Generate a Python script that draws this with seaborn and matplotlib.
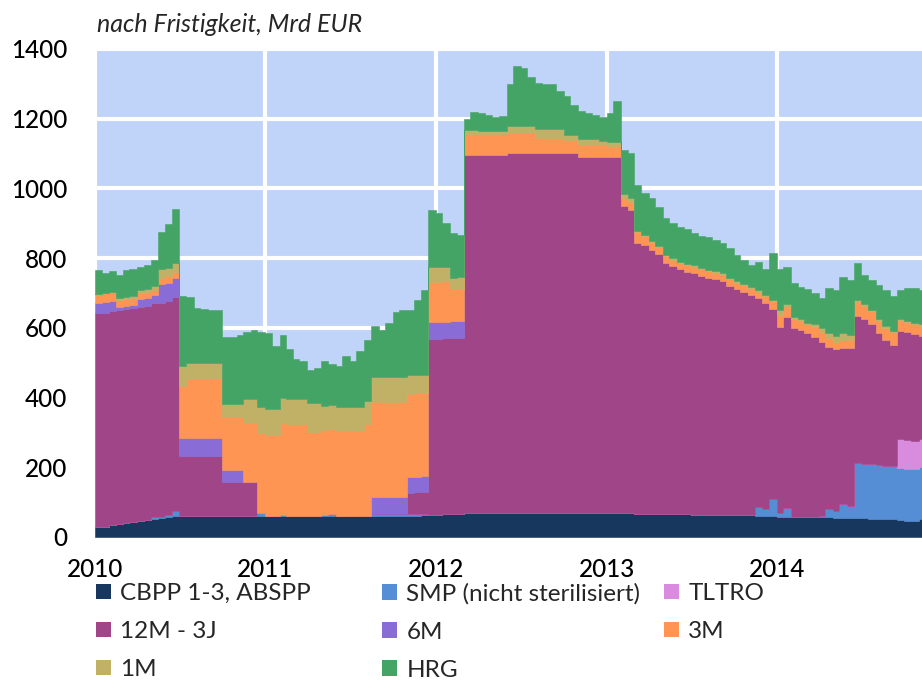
import numpy as np
import pandas as pd
import matplotlib
matplotlib.use("Agg")
import matplotlib.pyplot as plt
from matplotlib.patches import Patch
import seaborn as sns

# Halbmonatswerte (1. und 15. des Monats), Mrd EUR, Jan 2010 - Nov 2014
dates = pd.date_range("2010-01-01", periods=117, freq="SMS")

cbpp = [28, 30, 33, 36, 39, 42, 45, 48, 51, 54, 57, 60, 60, 60, 60, 60, 60, 60, 60, 60, 60, 60, 60, 60,
        60, 60, 60, 60, 60, 60, 60, 60, 60, 60, 60, 60, 60, 60, 60, 60, 60, 60, 60, 60, 60, 61, 62, 63,
        64, 65, 66, 67, 68, 68, 69, 69, 70, 70, 70, 70, 70, 70, 70, 70, 70, 70, 70, 70, 70, 70, 70, 70,
        69, 69, 68, 68, 67, 67, 66, 66, 66, 65, 65, 65, 64, 64, 64, 63, 63, 63, 62, 62, 62, 61, 61, 60,
        58, 58, 57, 57, 57, 56, 56, 56, 55, 55, 55, 54, 54, 53, 53, 52, 51, 48, 45, 45, 52]

smp = [0, 0, 0, 0, 0, 0, 0, 0, 5, 4, 6, 15, 0, 0, 0, 0, 0, 0, 0, 0, 0, 0, 0, 8,
       0, 0, 4, 0, 0, 0, 0, 0, 3, 5, 0, 0, 0, 0, 0, 5, 5, 5, 5, 5, 5, 5, 5, 0,
       0, 0, 0, 0, 0, 0, 0, 0, 0, 0, 0, 0, 0, 0, 0, 0, 0, 0, 0, 0, 0, 0, 0, 0,
       0, 0, 0, 0, 0, 0, 0, 0, 0, 0, 0, 0, 0, 0, 0, 0, 0, 0, 0, 0, 0, 25, 20, 50,
       10, 26, 0, 0, 0, 0, 5, 25, 20, 40, 35, 157, 156, 155, 154, 153, 152, 151, 150, 149, 148]

tltro = [0] * 24 + [0] * 24 + [0] * 24 + [0] * 24 + \
        [0, 0, 0, 0, 0, 0, 0, 0, 0, 0, 0, 0, 0, 0, 0, 0, 0, 82, 82, 82, 82]

m12_3j = [614, 614, 614, 614, 614, 614, 614, 614, 614, 614, 614, 614, 172, 172, 172, 172, 172, 172, 97, 97, 97, 97, 97, 0,
          0, 0, 0, 0, 0, 0, 0, 0, 0, 0, 0, 0, 0, 0, 0, 0, 0, 0, 0, 0, 62, 62, 62, 505,
          505, 505, 505, 505, 1028, 1028, 1027, 1027, 1026, 1026, 1031, 1031, 1031, 1031, 1031, 1031, 1031, 1031, 1031, 1031, 1021, 1021, 1021, 1021,
          1020, 1020, 882, 870, 777, 771, 757, 746, 721, 712, 703, 696, 693, 686, 680, 677, 672, 658, 650, 642, 632, 600, 590, 545,
          535, 548, 543, 538, 528, 519, 499, 464, 463, 447, 452, 424, 415, 402, 378, 360, 349, 311, 311, 307, 296]

m6 = [29, 29, 29, 11, 11, 11, 24, 24, 24, 53, 53, 53, 53, 53, 53, 53, 53, 53, 35, 35, 35, 0, 0, 0,
      0, 0, 0, 0, 0, 0, 0, 0, 0, 0, 0, 0, 0, 0, 0, 51, 51, 51, 51, 51, 45, 45, 45, 48,
      48, 48, 48, 48, 0, 0, 0, 0, 0, 0, 0, 0, 0, 0, 0, 0, 0, 0, 0, 0, 0, 0, 0, 0] + [0] * 24 + [0] * 21

m3 = [27, 27, 27, 19, 19, 19, 16, 16, 16, 19, 19, 19, 148, 167, 167, 167, 167, 167, 151, 151, 151, 170, 170, 229,
      233, 233, 264, 264, 264, 264, 242, 242, 245, 245, 245, 245, 245, 245, 264, 272, 272, 272, 272, 272, 239, 239, 239, 115,
      115, 115, 92, 92, 60, 60, 60, 60, 60, 60, 59, 59, 59, 59, 43, 43, 43, 43, 38, 38, 34, 34, 34, 34,
      33, 33, 22, 22, 30, 25, 22, 20, 18, 18, 18, 18, 18, 18, 18, 18, 18, 18, 18, 18, 18, 18, 20, 22,
      35, 29, 25, 25, 25, 27, 29, 25, 22, 22, 22, 38, 38, 37, 36, 35, 35, 27, 27, 27, 27]

m1 = [0, 0, 0, 6, 6, 6, 10, 10, 10, 24, 24, 24, 57, 48, 48, 48, 48, 48, 38, 38, 38, 70, 70, 75,
      75, 75, 72, 72, 72, 72, 81, 81, 68, 68, 68, 68, 68, 68, 67, 70, 70, 70, 70, 70, 53, 53, 53, 43,
      43, 43, 33, 33, 12, 12, 10, 10, 10, 10, 19, 19, 19, 19, 26, 26, 26, 26, 14, 14, 16, 16, 16, 12,
      12, 12, 13, 13, 4, 4, 4, 4, 4, 4, 4, 4, 4, 4, 4, 4, 4, 4, 4, 4, 4, 4, 4, 4,
      12, 8, 5, 5, 5, 8, 10, 15, 18, 20, 15, 6, 5, 5, 5, 5, 5, 5, 5, 5, 5]

hrg = [67, 58, 59, 66, 77, 78, 66, 68, 75, 108, 124, 155, 200, 189, 156, 155, 152, 150, 194, 194, 199, 192, 197, 215,
       217, 180, 180, 144, 116, 109, 95, 102, 129, 117, 117, 147, 132, 162, 174, 147, 136, 157, 187, 192, 188, 216, 244, 164,
       154, 124, 128, 120, 30, 52, 49, 44, 39, 42, 121, 171, 166, 141, 132, 130, 130, 110, 112, 87, 81, 74, 71, 68,
       81, 116, 125, 130, 132, 119, 123, 112, 105, 101, 99, 100, 92, 92, 94, 90, 87, 85, 75, 69, 64, 82, 73, 134,
       120, 106, 98, 93, 96, 89, 86, 130, 131, 161, 158, 106, 84, 85, 97, 104, 98, 85, 94, 99, 99]

labels = ["CBPP 1-3, ABSPP", "SMP (nicht sterilisiert)", "TLTRO", "12M - 3J", "6M", "3M", "1M", "HRG"]
colors = ["#18375E", "#558ED5", "#D98BDD", "#A04588", "#896CD6", "#FF9552", "#C0B166", "#44A466"]
years = [2010, 2011, 2012, 2013, 2014]

df = pd.DataFrame(dict(zip(labels, [cbpp, smp, tltro, m12_3j, m6, m3, m1, hrg])), index=dates)

sns.set_theme(style="whitegrid", rc={
    "axes.facecolor": "#C0D3F8",
    "grid.color": "white",
    "grid.linewidth": 3,
    "axes.edgecolor": "white",
})
plt.rcParams["font.family"] = ["Lato", "DejaVu Sans"]

fig = plt.figure(figsize=(9.22, 6.96), dpi=100)
ax = fig.add_axes([95 / 922, 1 - 537 / 696, 827 / 922, 488 / 696])

# letzte Stufe bis zum rechten Rand verlaengern
x_end = pd.Timestamp("2014-11-08")
xs = list(df.index) + [x_end]
ys = [np.append(df[c].values, df[c].values[-1]) for c in labels]
ax.stackplot(xs, *ys, colors=colors, step="post", linewidth=0.4, edgecolor="face")

ax.set_xlim(pd.Timestamp("2010-01-01"), x_end)
ax.set_ylim(0, 1400)
ax.set_yticks(range(0, 1401, 200))
ax.set_xticks([pd.Timestamp(f"{y}-01-01") for y in years])
ax.set_xticklabels([str(y) for y in years])
ax.tick_params(axis="y", length=0, pad=20, labelsize=17.5, labelcolor="black")
ax.tick_params(axis="x", length=0, pad=15, labelsize=17.5, labelcolor="black")
for lbl in ax.get_xticklabels() + ax.get_yticklabels():
    lbl.set_fontweight("medium")
ax.set_axisbelow(True)
for s in ax.spines.values():
    s.set_visible(False)

fig.text(97 / 922, 1 - 25 / 696, "nach Fristigkeit, Mrd EUR", style="italic",
         fontsize=18, va="center", ha="left")

# Legende in drei Spalten wie im Original
cols = [[0, 3, 6], [1, 4, 7], [2, 5]]
col_x = [96, 382, 664]
for idx, cx in zip(cols, col_x):
    handles = [Patch(facecolor=colors[i], edgecolor="none") for i in idx]
    fig.legend(handles, [labels[i] for i in idx], loc="upper left",
               bbox_to_anchor=(cx / 922, 1 - 583 / 696), frameon=False,
               fontsize=17.5, handlelength=0.6, handleheight=0.6,
               handletextpad=0.4, labelspacing=0.7, borderpad=0, borderaxespad=0)

fig.savefig("out.png", dpi=100)
